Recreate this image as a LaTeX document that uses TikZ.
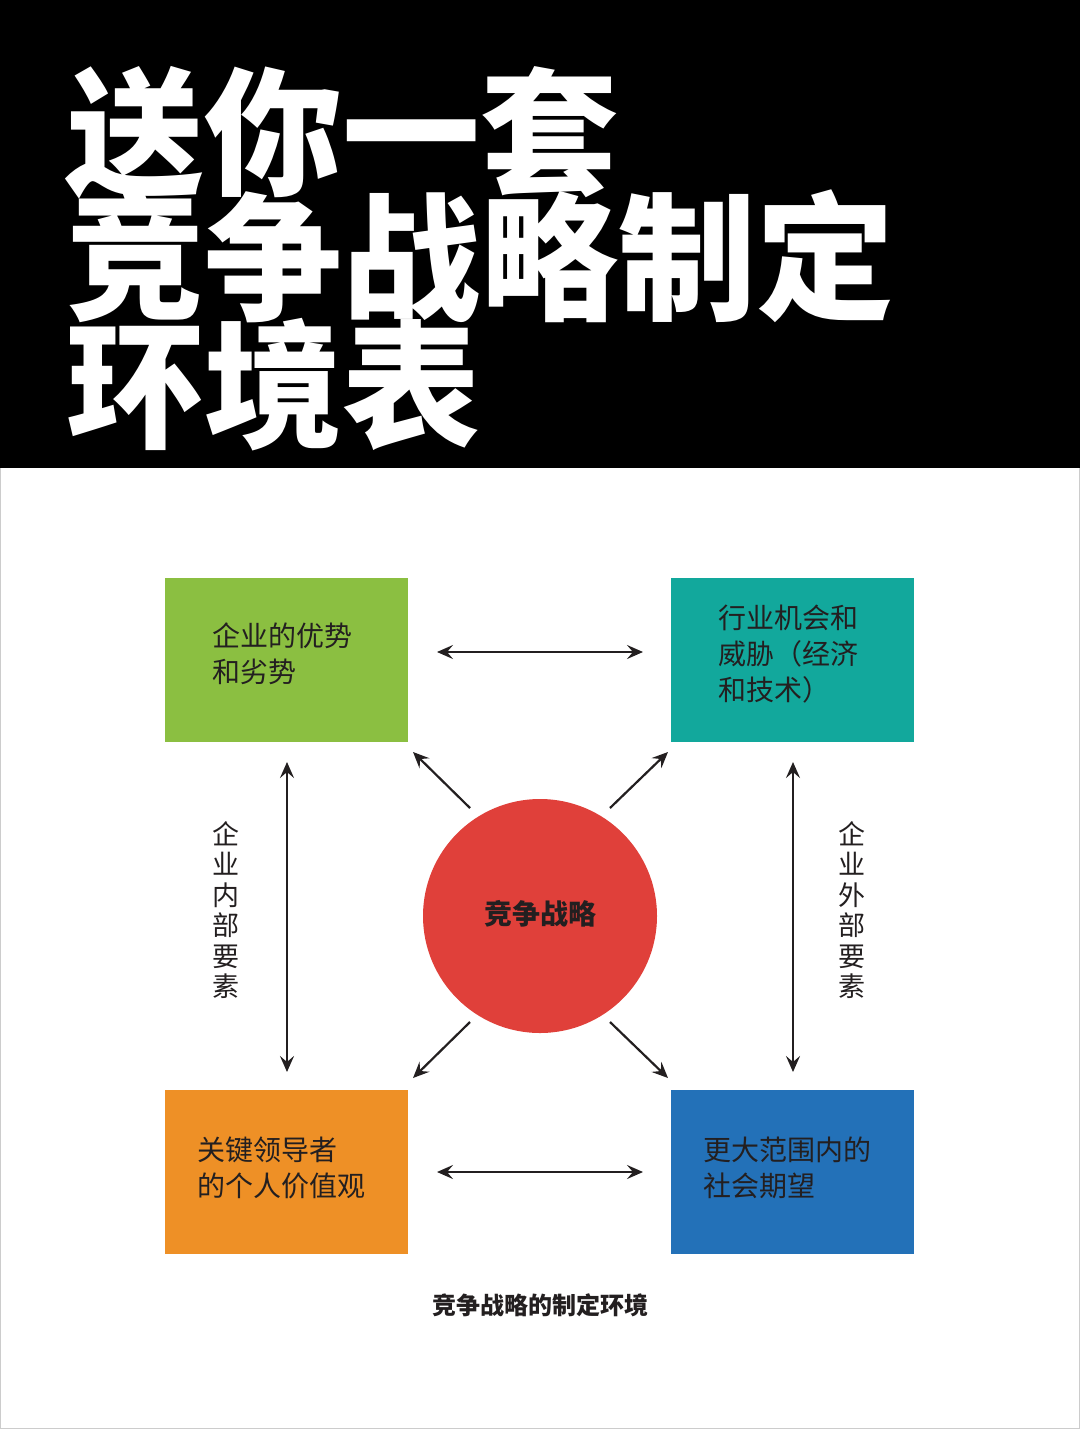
\documentclass[tikz,border=0pt]{standalone}
\usepackage{fontspec}
\setmainfont{Noto Sans CJK SC}
\newfontfamily\cjk{Noto Sans CJK SC}
\usetikzlibrary{arrows.meta}
\definecolor{cgreen}{HTML}{8BBF41}
\definecolor{cteal}{HTML}{12A89C}
\definecolor{corange}{HTML}{EE9026}
\definecolor{cblue}{HTML}{2371B8}
\definecolor{cred}{HTML}{E0403A}
\definecolor{ink}{HTML}{231F20}
\begin{document}
\begin{tikzpicture}[x=1pt,y=-1pt,
  box/.style={minimum width=243pt,minimum height=164pt,inner sep=0pt},
  boxtxt/.style={anchor=north west,align=left,font=\fontsize{28}{36}\selectfont\cjk,text=ink,inner sep=0pt},
  title/.style={anchor=west,inner sep=0pt,text=white,font=\fontsize{138}{138}\selectfont\bfseries},
  arr/.style={{Stealth[length=16pt,width=14pt,inset=6pt]}-{Stealth[length=16pt,width=14pt,inset=6pt]},line width=2.2pt,draw=ink},
  arr1/.style={-{Stealth[length=16pt,width=14pt,inset=6pt]},line width=2.2pt,draw=ink},
  vtxt/.style={align=center,font=\fontsize{27}{30.5}\selectfont,text=ink,inner sep=0pt}]
\useasboundingbox (0,0) rectangle (1080,1429);
\fill[white] (0,0) rectangle (1080,1429);
\fill[black] (0,0) rectangle (1080,468);
\draw[gray!40,line width=1pt] (0.5,468) -- (0.5,1428.5) -- (1079.5,1428.5) -- (1079.5,468);
\node[title] (t1) at (66,133) {送你一套};
\node[title] (t2) at (66,256) {竞争战略制定};
\node[title] (t3) at (66,385) {环境表};
\node[box,fill=cgreen] (g) at (286.5,660) {};
\node[box,fill=cteal] (t) at (792.5,660) {};
\node[box,fill=corange] (o) at (286.5,1172) {};
\node[box,fill=cblue] (b) at (792.5,1172) {};
\node[circle,fill=cred,minimum size=234pt,inner sep=0pt] (c) at (540,916) {};
\node[font=\fontsize{28}{28}\selectfont\bfseries,text=ink] (ct) at (540,914) {竞争战略};
\node[boxtxt] (gt) at (212,623) {企业的优势\\和劣势};
\node[boxtxt] (tt) at (718,605) {行业机会和\\威胁（经济\\和技术）};
\node[boxtxt] (ot) at (197,1137) {关键领导者\\的个人价值观};
\node[boxtxt] (bt) at (703,1137) {更大范围内的\\社会期望};
\node[vtxt] (lv) at (226,910) {企\\业\\内\\部\\要\\素};
\node[vtxt] (rv) at (852,910) {企\\业\\外\\部\\要\\素};
\node[font=\fontsize{24}{24}\selectfont\bfseries,text=ink] (cap) at (540,1305) {竞争战略的制定环境};
\coordinate (h1a) at (437,652); \coordinate (h1b) at (643,652);
\coordinate (h2a) at (437,1172); \coordinate (h2b) at (643,1172);
\coordinate (v1a) at (287,762); \coordinate (v1b) at (287,1072);
\coordinate (v2a) at (793,762); \coordinate (v2b) at (793,1072);
\draw[arr] (h1a) -- (h1b);
\draw[arr] (h2a) -- (h2b);
\draw[arr] (v1a) -- (v1b);
\draw[arr] (v2a) -- (v2b);
\coordinate (d1a) at (470,808); \coordinate (d1b) at (413,752);
\coordinate (d2a) at (610,808); \coordinate (d2b) at (668,752);
\coordinate (d3a) at (470,1022); \coordinate (d3b) at (413,1078);
\coordinate (d4a) at (610,1022); \coordinate (d4b) at (668,1078);
\draw[arr1] (d1a) -- (d1b);
\draw[arr1] (d2a) -- (d2b);
\draw[arr1] (d3a) -- (d3b);
\draw[arr1] (d4a) -- (d4b);
\end{tikzpicture}
\end{document}
